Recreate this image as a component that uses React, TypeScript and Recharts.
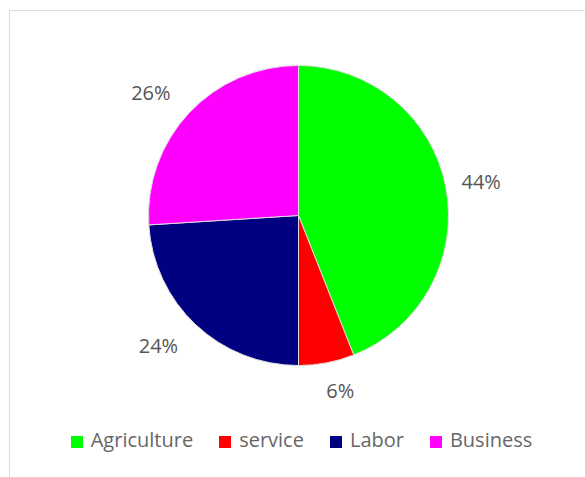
import React from 'react';
import { PieChart, Pie, Cell, Legend } from 'recharts';

const categories = ['Agriculture', 'service', 'Labor', 'Business'];
const shares = [44, 6, 24, 26];
const colors = ['#00FF00', '#FF0000', '#000080', '#FF00FF'];

const data = categories.map((name, i) => ({ name, value: shares[i] }));

const FONT = '"Open Sans", "Noto Sans", sans-serif';
const RAD = Math.PI / 180;

const renderLabel = (props: any) => {
  const { cx, cy, midAngle, outerRadius, percent } = props;
  const text = `${Math.round(percent * 100)}%`;
  const digits = text.length - 1;
  const halfW = (digits * 11.44 + 16.46) / 2;
  const dx = Math.cos(-midAngle * RAD);
  const dy = Math.sin(-midAngle * RAD);
  const x = cx - 4 + (outerRadius + 20) * dx + halfW * Math.sign(dx);
  const y = cy + (outerRadius + 29) * dy;
  return (
    <text
      x={x}
      y={y + 7}
      textAnchor="middle"
      fill="#555"
      fontFamily={FONT}
      fontSize={20}
    >
      {text}
    </text>
  );
};

const renderLegend = (props: any) => {
  const payload = [...(props.payload || [])].sort(
    (a: any, b: any) => categories.indexOf(a.value) - categories.indexOf(b.value)
  );
  return (
    <div
      style={{
        display: 'flex',
        justifyContent: 'center',
        alignItems: 'center',
        gap: 26,
        fontFamily: FONT,
        fontSize: 20,
        lineHeight: '20px',
        color: '#666',
      }}
    >
      {payload.map((entry: any, i: number) => (
        <div key={i} style={{ display: 'flex', alignItems: 'center' }}>
          <span
            style={{
              display: 'inline-block',
              width: 12,
              height: 12,
              marginTop: 4,
              marginRight: 8,
              background: entry.color,
            }}
          />
          <span>{entry.value}</span>
        </div>
      ))}
    </div>
  );
};

export default function App() {
  return (
    <div
      style={{
        position: 'absolute',
        left: 0,
        top: 0,
        width: 585,
        height: 477,
        overflow: 'hidden',
        background: '#fff',
      }}
    >
      <div
        style={{
          position: 'absolute',
          left: 9,
          top: 10,
          width: 600,
          height: 500,
          border: '1px solid #dddddd',
        }}
      />
      <div style={{ position: 'absolute', left: 0, top: 0 }}>
        <PieChart width={585} height={477} margin={{ top: 0, right: 0, bottom: 0, left: 0 }}>
          <Pie
            data={data}
            dataKey="value"
            nameKey="name"
            cx={298.5}
            cy={215.5}
            outerRadius={150}
            startAngle={90}
            endAngle={-270}
            stroke="#dddddd"
            strokeWidth={1}
            label={renderLabel}
            labelLine={false}
            isAnimationActive={false}
          >
            {data.map((d, i) => (
              <Cell key={d.name} fill={colors[i]} />
            ))}
          </Pie>
          <Legend
            content={renderLegend}
            wrapperStyle={{ position: 'absolute', left: 9, top: 430, width: 585, height: 20 }}
          />
        </PieChart>
      </div>
    </div>
  );
}
